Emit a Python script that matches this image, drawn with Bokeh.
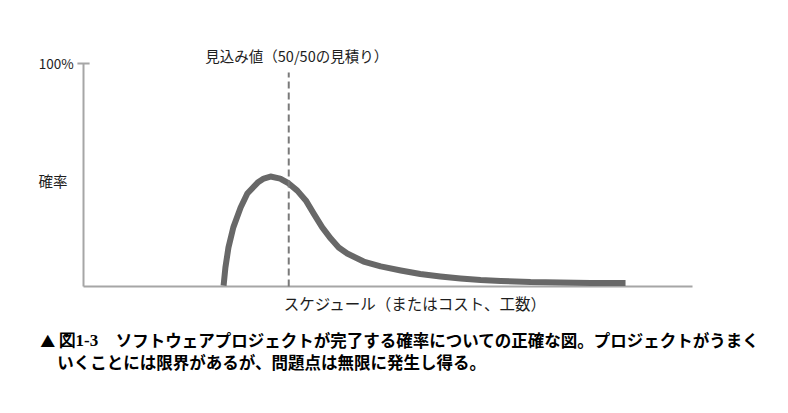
from bokeh.plotting import figure
from bokeh.models import Range1d, Label, ColumnDataSource
from bokeh.embed import file_html
from bokeh.resources import INLINE

# Curve: schedule (0-100 along the x axis) vs probability (%)
schedule = [23.0, 23.3, 23.8, 24.6, 25.8, 26.9, 28.6, 29.6, 30.7, 32.3,
            33.7, 35.1, 36.5, 37.8, 39.2, 40.6, 41.9, 43.3, 46.0, 48.8,
            52.1, 55.3, 58.6, 61.9, 65.2, 68.5, 73.4, 78.3, 83.3, 89.0]
probability = [0.4, 8.5, 17.5, 26.5, 35.4, 41.7, 46.6, 48.4, 49.3, 48.4,
               46.2, 43.0, 38.6, 32.7, 26.5, 21.5, 17.5, 14.8, 11.2, 9.0,
               7.2, 5.6, 4.5, 3.6, 2.9, 2.5, 2.0, 1.8, 1.6, 1.6]
estimate_x = [33.7]          # 50/50 estimate
estimate_top = [96.0]
x_axis_end = 100
y_ticks = [100]
y_tick_labels = ["100%"]

estimate_label = "見込み値（50/50の見積り）"
y_label = "確率"
x_label = "スケジュール（またはコスト、工数）"
caption_mark = "▲"
caption_fig = "図1-3"
caption_line1 = "ソフトウェアプロジェクトが完了する確率についての正確な図。プロジェクトがうまく"
caption_line2 = "いくことには限界があるが、問題点は無限に発生し得る。"

JP = "Noto Sans CJK JP"
AXIS_GREY = "#a6a6a6"
TEXT = "#1e1e1e"

# The frame covers the whole page; the chart's own axes are drawn in data units
p = figure(width=788, height=413, output_backend="svg", toolbar_location=None,
           x_range=Range1d(-13.63, 115.76), y_range=Range1d(-56.95, 128.25),
           min_border=0, x_axis_type=None, y_axis_type=None)
p.outline_line_color = None
p.grid.visible = False
p.background_fill_color = "white"
p.border_fill_color = "white"

# axes
p.segment(x0=[0, 0], y0=[0, 0], x1=[x_axis_end, 0], y1=[0, max(y_ticks)],
          line_color=AXIS_GREY, line_width=2)
p.segment(x0=[-1.0] * len(y_ticks), y0=y_ticks, x1=[1.0] * len(y_ticks), y1=y_ticks,
          line_color=AXIS_GREY, line_width=2)

src = ColumnDataSource(dict(x=schedule, y=probability))
p.line("x", "y", source=src, line_color="#686868", line_width=6,
       line_cap="butt", line_join="round")

p.segment(x0=estimate_x, y0=[0] * len(estimate_x), x1=estimate_x, y1=estimate_top,
          line_color="#7a7a7a", line_width=2, line_dash="7 4")

def lab(x, y, text, size, align="left", bold=False, font=JP, color=TEXT):
    p.add_layout(Label(x=x, y=y, x_units="data", y_units="data", text=text,
                       text_font=font, text_font_size=size,
                       text_font_style="bold" if bold else "normal",
                       text_color=color, text_align=align,
                       text_baseline="middle"))

for t, s in zip(y_ticks, y_tick_labels):
    lab(-1.6, t, s, "13.5px", align="right")
lab(20.0, 103.6, estimate_label, "14.5px")
lab(-7.4, 47.5, y_label, "14.5px")
lab(32.9, -7.6, x_label, "15.5px")

lab(-7.1, -24.1, caption_mark, "15px", bold=True, color="black")
lab(-4.1, -24.1, caption_fig, "17px", bold=True, font="Liberation Serif", color="black")
lab(5.3, -24.1, caption_line1, "16.5px", bold=True, color="black")
lab(-4.3, -34.0, caption_line2, "16.5px", bold=True, color="black")

open("out.html", "w").write(file_html(p, INLINE))
